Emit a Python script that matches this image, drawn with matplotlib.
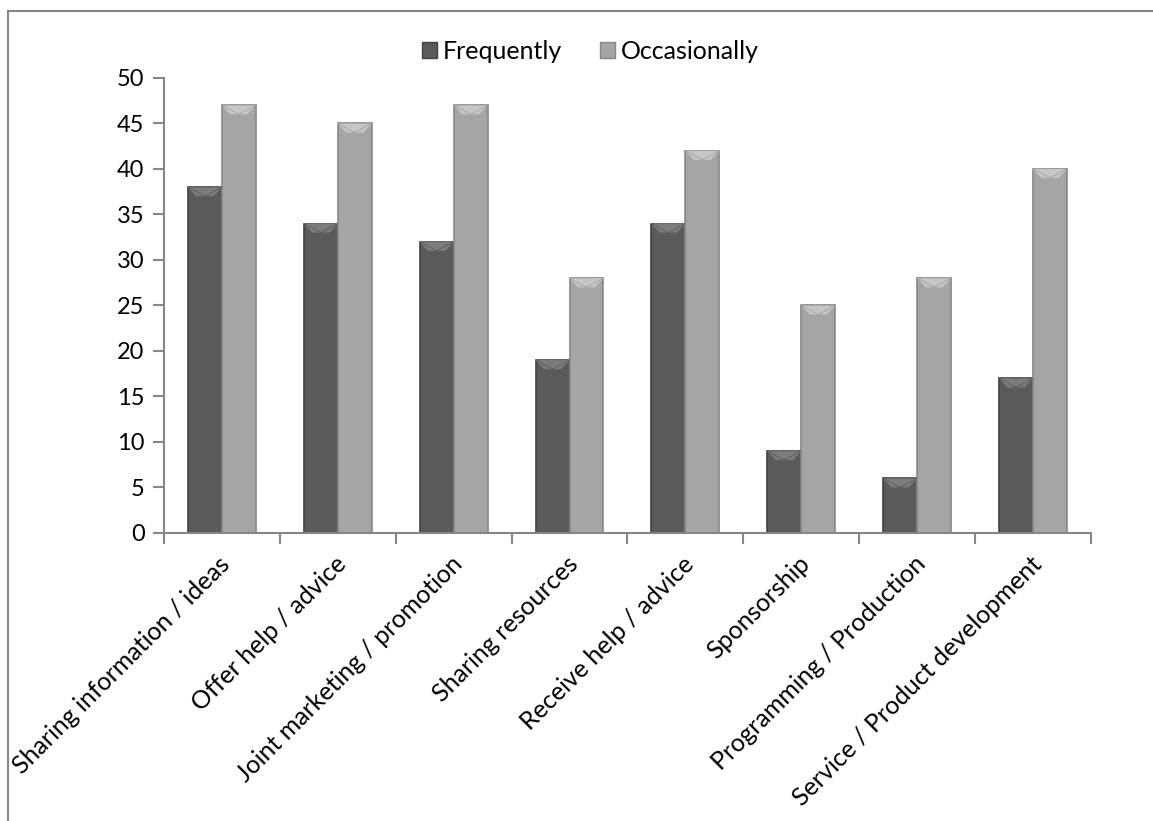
import matplotlib.pyplot as plt
import numpy as np
from matplotlib.patches import Polygon
from matplotlib.lines import Line2D

# survey data
categories = ['Sharing information / ideas', 'Offer help / advice',
              'Joint marketing / promotion', 'Sharing resources',
              'Receive help / advice', 'Sponsorship',
              'Programming / Production', 'Service / Product development']
frequently = [38, 34, 32, 19, 34, 9, 6, 17]
occasionally = [47, 45, 47, 28, 42, 25, 28, 40]

plt.rcParams['font.family'] = ['Lato', 'DejaVu Sans']

fig = plt.figure(figsize=(11.53, 8.21), dpi=100)
ax = fig.add_axes([0.1422, 0.3508, 0.804, 0.5542])

x = np.arange(len(categories)) + 0.5
w = 0.293
axis_grey = '#868686'


def bevel_bar(xc, h, face, edge, hi):
    # plain bar plus a lighter chamfer at the top
    ax.bar(xc, h, width=w, color=face, edgecolor=edge, linewidth=1.2, zorder=2)
    l, r = xc - w / 2, xc + w / 2
    bh = 1.0
    d = w * 0.25
    top = Polygon([[l, h], [r, h], [r - d, h - bh], [l + d, h - bh]],
                  closed=True, facecolor=hi, edgecolor='none', zorder=3)
    ax.add_patch(top)
    ax.plot([l + 0.01, xc], [h - 0.05, h - bh], color=edge, lw=0.5, alpha=0.7, zorder=3)
    ax.plot([r - 0.01, xc], [h - 0.05, h - bh], color=edge, lw=0.5, alpha=0.7, zorder=3)


for xi, f, o in zip(x, frequently, occasionally):
    bevel_bar(xi - w / 2, f, '#5a5a5a', '#424242', '#7c7c7c')
    bevel_bar(xi + w / 2, o, '#a5a5a5', '#888888', '#c6c6c6')

ax.set_xlim(0, len(categories))
ax.set_ylim(0, 50)
ax.set_yticks(np.arange(0, 51, 5))
ax.set_xticks(np.arange(0, len(categories) + 1))
ax.set_xticklabels([])
ax.tick_params(axis='y', labelsize=17, length=8, width=1.5, color=axis_grey, pad=6)
ax.tick_params(axis='x', length=8, width=1.5, color=axis_grey)

for xi, lab in zip(x, categories):
    ax.text(xi + 0.04, -3.0, lab, rotation=45, rotation_mode='anchor', ha='right',
            va='center', fontsize=18, transform=ax.transData)

for s in ['top', 'right']:
    ax.spines[s].set_visible(False)
for s in ['left', 'bottom']:
    ax.spines[s].set_color(axis_grey)
    ax.spines[s].set_linewidth(1.5)

handles = [plt.Rectangle((0, 0), 1, 1, facecolor='#5a5a5a', edgecolor='#424242'),
           plt.Rectangle((0, 0), 1, 1, facecolor='#a5a5a5', edgecolor='#888888')]
fig.legend(handles, ['Frequently', 'Occasionally'], loc='center',
           bbox_to_anchor=(0.512, 0.937), ncol=2, frameon=False, fontsize=18,
           handlelength=0.6, handleheight=0.6, handletextpad=0.25, columnspacing=1.5)

# outer chart border
fig.add_artist(Line2D([8 / 1153, 1], [1 - 11 / 821, 1 - 11 / 821], color=axis_grey, lw=1.5))
fig.add_artist(Line2D([8 / 1153, 8 / 1153], [0, 1 - 11 / 821], color=axis_grey, lw=1.5))

plt.savefig('out.png', dpi=100)
